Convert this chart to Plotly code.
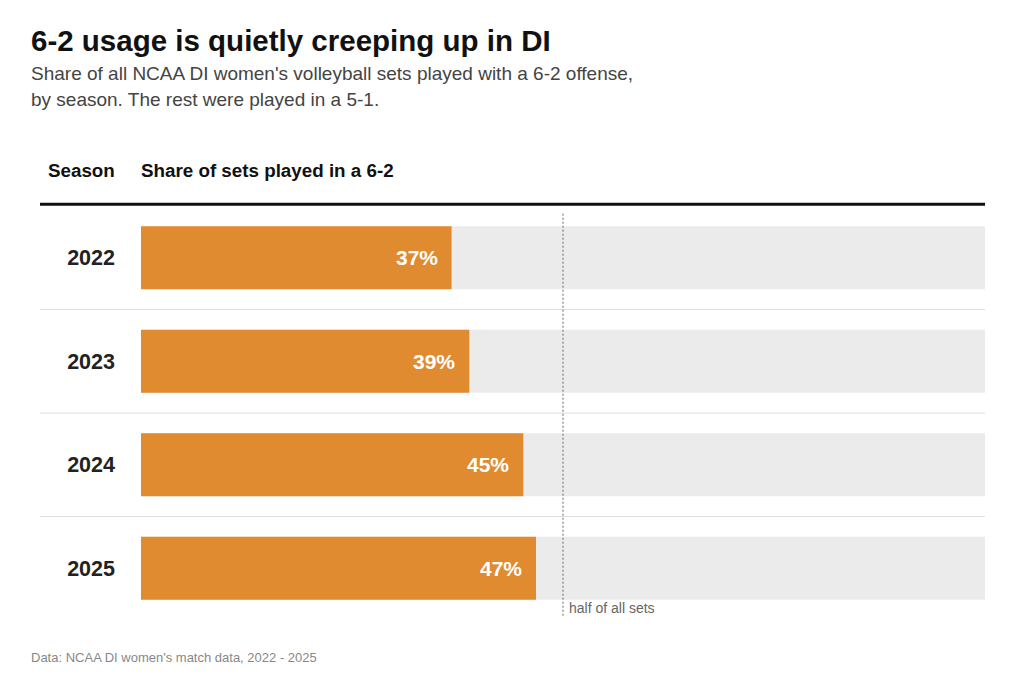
import plotly.graph_objects as go

# Data
seasons = ['2022', '2023', '2024', '2025']
share_62 = [36.8, 38.9, 45.3, 46.8]
labels = ['37%', '39%', '45%', '47%']
full = [100, 100, 100, 100]

W, H = 1024, 683
OFF = 8  # page offset of the figure inside the browser window
L, R = 141 - OFF, 985 - OFF
T, B = 205.7 - OFF, 620.3 - OFF


def px(x):
    return (x - OFF - L) / (R - L)


def py(y):
    return (B - (y - OFF)) / (B - T)


orange = '#E08B2F'
font = 'Liberation Sans, Arial, sans-serif'

bg = go.Bar(y=seasons, x=full, orientation='h', marker=dict(color='#EBEBEB', line=dict(width=0)),
            hoverinfo='skip', showlegend=False)
fg = go.Bar(y=seasons, x=share_62, orientation='h', marker=dict(color=orange, line=dict(width=0)),
            showlegend=False)

fig = go.Figure(data=[bg, fg])

annotations = []
# value labels inside bars
for i, (v, lab) in enumerate(zip(share_62, labels)):
    annotations.append(dict(x=v, y=i, xref='x', yref='y', text='<b>' + lab + '</b>', showarrow=False,
                            xanchor='right', yanchor='middle', xshift=-12,
                            font=dict(color='white', size=21, family=font)))

# titles and notes
notes = [
    dict(x=px(29), y=py(40), text='<b>6-2 usage is quietly creeping up in DI</b>',
         font=dict(size=29.5, color='#111', family=font)),
    dict(x=px(29), y=py(73), text="Share of all NCAA DI women's volleyball sets played with a 6-2 offense,",
         font=dict(size=19, color='#444', family=font)),
    dict(x=px(29), y=py(99), text='by season. The rest were played in a 5-1.',
         font=dict(size=19, color='#444', family=font)),
    dict(x=px(46), y=py(170), text='<b>Season</b>', font=dict(size=18.8, color='#111', family=font)),
    dict(x=px(139), y=py(170), text='<b>Share of sets played in a 6-2</b>',
         font=dict(size=18.8, color='#111', family=font)),
    dict(x=px(29), y=py(658), text="Data: NCAA DI women's match data, 2022 - 2025",
         font=dict(size=13, color='#888', family=font)),
    dict(x=px(567), y=py(608), text='half of all sets',
         font=dict(size=14, color='#666', family=font)),
]
for a in notes:
    a['xref'] = 'paper'
    a['yref'] = 'paper'
    a['showarrow'] = False
    a['xanchor'] = 'left'
    a['yanchor'] = 'middle'
annotations += notes

shapes = [
    dict(type='line', xref='paper', yref='paper', x0=px(40), x1=1, y0=py(204), y1=py(204),
         line=dict(color='#111', width=3)),
    dict(type='line', xref='x', yref='paper', x0=50, x1=50, y0=py(616), y1=py(212),
         line=dict(color='#666', width=1, dash='2px,2px')),
]
for yv in [0.5, 1.5, 2.5]:
    shapes.append(dict(type='line', xref='paper', yref='y', x0=px(40), x1=1, y0=yv, y1=yv,
                       line=dict(color='#DDDDDD', width=1), layer='below'))

fig.update_layout(
    width=W, height=H,
    margin=dict(l=L, r=W - R, t=T, b=H - B),
    paper_bgcolor='white', plot_bgcolor='white',
    barmode='overlay', bargap=0.392,
    xaxis=dict(range=[0, 100], visible=False, fixedrange=True),
    yaxis=dict(type='category', categoryorder='array', categoryarray=seasons, range=[3.5, -0.5],
               tickvals=seasons, ticktext=['<b>' + s + '</b>' for s in seasons],
               tickfont=dict(size=21.5, color='#222', family=font), ticklabelstandoff=25,
               showgrid=False, zeroline=False, showline=False, fixedrange=True),
    annotations=annotations, shapes=shapes,
    font=dict(family=font),
)

fig.write_html('out.html')
